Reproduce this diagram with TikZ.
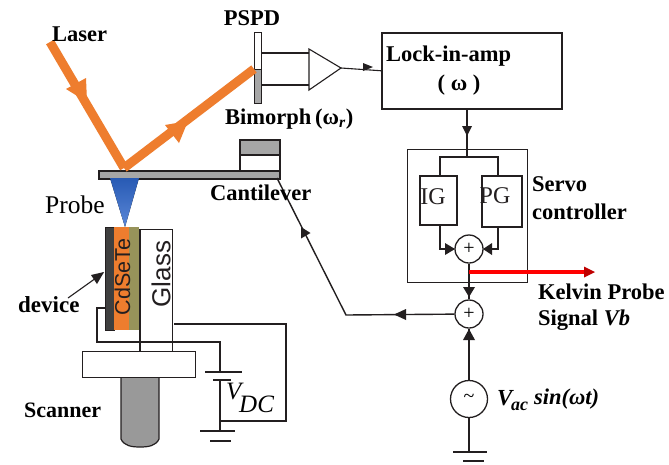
\documentclass[tikz,border=0pt]{standalone}
\usepackage{fontspec}
\setmainfont{Liberation Serif}
\setsansfont{Liberation Sans}
\usetikzlibrary{arrows.meta,calc}
\definecolor{beam}{HTML}{EE7D2E}
\definecolor{olivec}{HTML}{97935A}
\definecolor{greyc}{HTML}{A6A6A6}
\definecolor{darkc}{HTML}{3F3F3F}
\definecolor{inkc}{HTML}{231F20}
\definecolor{probetop}{RGB}{40,90,180}
\definecolor{probebot}{RGB}{90,135,215}
\newcommand{\fs}[1]{\fontsize{#1}{#1}\selectfont}
\tikzset{
 wire/.style={draw=inkc,line width=1.4pt},
 thin wire/.style={draw=inkc,line width=1.1pt},
 head/.style={fill=inkc,draw=none},
 blockbox/.style={draw=inkc,line width=1.5pt,fill=white,inner sep=0,anchor=north west},
 sumc/.style={circle,draw=inkc,line width=1.3pt,fill=white,minimum size=28pt,inner sep=0},
 lab/.style={inner sep=0,text=black,font=\fs{22.5}\bfseries},
 plainlab/.style={inner sep=0,text=black,font=\fs{24}},
 ray/.style={draw=beam,line width=9pt},
 rayhead/.style={fill=beam,draw=none},
}
\begin{document}
\begin{tikzpicture}[x=1pt,y=-1pt]
\useasboundingbox (0,0) rectangle (669,464);
\fill[white] (0,0) rectangle (669,464);
% coordinates
\coordinate (laser) at (50,42);
\coordinate (spot) at (124,168);
\coordinate (pspdspot) at (254,69);
% PSPD
\node[blockbox,minimum width=7pt,minimum height=37pt,line width=1.2pt] (pspdtop) at (254,32) {};
\node[blockbox,minimum width=7pt,minimum height=34pt,line width=1.2pt,fill=greyc] (pspdbot) at (254,69) {};
\node[lab] (pspdl) at (252,18) {PSPD};
% amplifier
\coordinate (a1) at (309,49); \coordinate (a2) at (309,90); \coordinate (a3) at (341,68);
\draw[thin wire] (261,53) -- (309,53) (261,85) -- (309,85);
\draw[thin wire,fill=white] (a1) -- (a3) -- (a2) -- cycle;
% lock-in
\node[blockbox,minimum width=180pt,minimum height=76pt] (lock) at (381,32) {};
\draw[thin wire] (a3) -- (lock.west);
\fill[head] (373,67) -- (363,63) -- (363,71) -- cycle;
\node[lab,anchor=west] at (386,56) {Lock-in-amp};
\node[lab] at (459,85) {( ω )};
% servo
\node[blockbox,minimum width=120pt,minimum height=133pt,line width=1.2pt,fill=none] (servo) at (407,149) {};
\node[blockbox,minimum width=37pt,minimum height=49pt,fill=none] (ig) at (419,175) {};
\node[blockbox,minimum width=40pt,minimum height=51pt,fill=none] (pg) at (481,175) {};
\node[plainlab,text=inkc] at (433,197) {IG};
\node[plainlab,text=inkc] at (495,196) {PG};
\coordinate (split) at (467,157);
\draw[wire,line width=1.8pt] (lock.south -| split) -- (split);
\fill[head] (467,136) -- (462,126) -- (472,126) -- cycle;
\draw[wire] (ig.north -| 440,0) |- (split) -| (pg.north -| 498,0);
% sums
\node[sumc] (s1) at (469,249) {\fs{20}+};
\node[sumc] (s2) at (469,314) {\fs{20}+};
\draw[wire,line width=1.5pt] (ig.south -| 440,0) |- (s1.west);
\draw[wire,line width=1.5pt] (pg.south -| 498,0) |- (s1.east);
\fill[head] (455,249) -- (445,243) -- (445,255) -- cycle;
\fill[head] (483,249) -- (492,243) -- (492,255) -- cycle;
\draw[wire] (s1) -- (s2);
\fill[head] (469,297) -- (463,287) -- (475,287) -- cycle;
\draw[draw=red,line width=3.2pt] (469,272) -- (590,272);
\fill[red!75!black] (595,272) -- (584,266.5) -- (584,277.5) -- cycle;
% source
\node[circle,draw=inkc,line width=1.3pt,fill=white,minimum size=37pt,inner sep=0] (src) at (469,399) {\fs{20}\raisebox{2pt}{\textasciitilde}};
\draw[wire] (src) -- (s2);
\fill[head] (469,329) -- (463,340) -- (475,340) -- cycle;
\coordinate (g1) at (469,452);
\draw[wire] (src) -- (g1);
\draw[draw=inkc,line width=2pt] (453,452) -- (487,452);
\draw[wire] (463,461) -- (484,461);
% cantilever + bimorph
\node[blockbox,minimum width=40pt,minimum height=15pt,fill=greyc] (bim1) at (239,139) {};
\node[blockbox,minimum width=40pt,minimum height=16pt] (bim2) at (239,154) {};
\node[blockbox,minimum width=181pt,minimum height=8pt,fill=greyc] (cant) at (98,170) {};
\fill[top color=probetop,bottom color=probebot] (110,178) -- (139,178) -- (125,227) -- cycle;
% feedback
\coordinate (fb) at (346,315);
\coordinate (cantend) at (277,178);
\draw[wire] (s2) -- (fb) -- (cantend);
\fill[head] (394,314.5) -- (406,309) -- (406,320) -- cycle;
\fill[head] (301,227) -- (310.5,233) -- (301,238.5) -- cycle;
% rays
\draw[ray] (laser) -- (spot);
\draw[ray] (spot) -- (pspdspot);
\fill[rayhead] (86,78) -- (66,89) -- (87,102) -- cycle;
\fill[rayhead] (165,125) -- (179,143) -- (188,121) -- cycle;
% sample
\fill[darkc] (105,227) rectangle (114,330);
\draw[inkc,line width=1pt] (105,227) rectangle (114,330);
\fill[beam] (114,227) rectangle (129,330);
\fill[olivec] (129,227) rectangle (139,330);
\draw[inkc,line width=1.2pt] (140,229) -- (140,351);
\draw[inkc,line width=1pt] (140,229) -- (172,229) -- (172,351);
\node[inner sep=0,rotate=90,font=\sffamily\fs{21.5},text=inkc] at (122.5,277) {CdSeTe};
\node[inner sep=0,rotate=90,font=\sffamily\fs{26},text=inkc] at (161,274) {Glass};
% platform & scanner
\fill[gray!80!white,draw=inkc,line width=1.2pt] (121,377) -- (121,439) .. controls (124,446) and (132,447) .. (140,447) .. controls (148,447) and (156,446) .. (159,439) -- (159,377) -- cycle;
\node[blockbox,minimum width=113pt,minimum height=26pt,line width=1.2pt] (plat) at (82,351) {};
% wiring
\coordinate (w1) at (105,308); \coordinate (w2) at (97,342); \coordinate (w3) at (220,342);
\coordinate (bt) at (220,372); \coordinate (bb) at (220,380); \coordinate (gb) at (220,431);
\coordinate (tap) at (220,421); \coordinate (w4) at (286,324); \coordinate (w5) at (174,324);
\draw[wire] (w1) -| (w2) -- (w3) -- (bt);
\draw[wire] (205,372) -- (242,372);
\draw[wire,line width=1.8pt] (213,380) -- (231,380);
\draw[wire] (bb) -- (gb);
\draw[wire,line width=2pt] (200,431) -- (235,431);
\draw[wire] (210,441) -- (231,441);
\draw[thin wire] (tap) -| (w4) -- (w5);
% device arrow
\coordinate (d1) at (68,298); \coordinate (d2) at (103,273);
\draw[thin wire] (d1) -- (d2);
\fill[head] (104,272) -- (91,275) -- (97,284) -- cycle;
% labels
\node[lab,anchor=west] at (52,34) {Laser};
\node[lab,anchor=west] at (225,119) {Bimorph\,(ω\textsubscript{\textit{r}})};
\node[lab,anchor=west] at (210,193) {Cantilever};
\node[plainlab,anchor=west,font=\fs{25.5}] at (45,205) {Probe};
\node[lab,anchor=west,font=\fs{23}\bfseries] at (18,305) {device};
\node[lab,anchor=west,font=\fs{22}\bfseries] at (24,410) {Scanner};
\node[lab,anchor=west] at (532,184) {Servo};
\node[lab,anchor=west] at (532,212) {controller};
\node[lab,anchor=west] at (538,292) {Kelvin Probe};
\node[lab,anchor=west] at (538,320) {Signal \textit{Vb}};
\node[inner sep=0,anchor=west,font=\fs{25}\itshape] at (226,391) {V};
\node[inner sep=0,anchor=west,font=\fs{25}\itshape] at (239,404) {DC};
\node[inner sep=0,anchor=west,font=\fs{23}\bfseries\itshape] at (497,398) {V};
\node[inner sep=0,anchor=west,font=\fs{18}\bfseries\itshape] at (511,406) {ac};
\node[inner sep=0,anchor=west,font=\fs{22.5}\bfseries\itshape] at (534,399) {sin(ωt)};
\end{tikzpicture}
\end{document}
